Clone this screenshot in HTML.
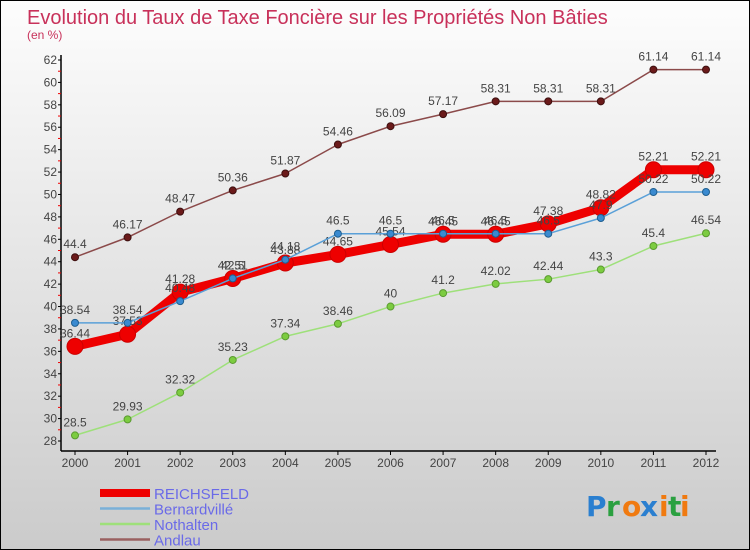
<!DOCTYPE html>
<html><head><meta charset="utf-8"><style>
body{margin:0;}
#wrap{width:750px;height:550px;position:relative;overflow:hidden;font-family:"Liberation Sans",sans-serif;}
svg{display:block}
</style></head><body>
<div id="wrap">
<svg id="chart" width="750" height="550" xmlns="http://www.w3.org/2000/svg">
<defs>
<linearGradient id="bg" x1="0" y1="0" x2="0" y2="1"><stop offset="0" stop-color="#fdfdfd"/><stop offset="1" stop-color="#cbcbcb"/></linearGradient>
</defs>
<rect x="0.5" y="0.5" width="749" height="549" fill="url(#bg)" stroke="#000"/>
<text x="27" y="24" font-size="20" fill="#c8315a">Evolution du Taux de Taxe Foncière sur les Propriétés Non Bâties</text>
<text x="27" y="39" font-size="12" fill="#c8315a">(en %)</text>
<g id="axes"></g>
<g id="series"></g>
<g id="legend"></g>
<g font-size="28" font-family="'DejaVu Sans',sans-serif" font-weight="bold">
<text x="586" y="516" fill="#2a7fd0">P</text><text x="606" y="516" fill="#2aa040">r</text><text x="622" y="516" fill="#f07a10">o</text><text x="640" y="516" fill="#2a7fd0">x</text><text x="659" y="516" fill="#f07a10">i</text><text x="668" y="516" fill="#2aa040">t</text><text x="680" y="516" fill="#f07a10">i</text>
</g>
</svg>
</div>
<script>
const years = [2000,2001,2002,2003,2004,2005,2006,2007,2008,2009,2010,2011,2012];
const reichsfeld = [36.44,37.53,41.28,42.5,43.88,44.65,45.54,46.45,46.45,47.38,48.82,52.21,52.21];
const bernardville = [38.54,38.54,40.48,42.51,44.18,46.5,46.5,46.5,46.5,46.5,47.9,50.22,50.22];
const nothalten = [28.5,29.93,32.32,35.23,37.34,38.46,40,41.2,42.02,42.44,43.3,45.4,46.54];
const andlau = [44.4,46.17,48.47,50.36,51.87,54.46,56.09,57.17,58.31,58.31,58.31,61.14,61.14];
const yTicks = [28,30,32,34,36,38,40,42,44,46,48,50,52,54,56,58,60,62];
const seriesNames = ["REICHSFELD","Bernardvillé","Nothalten","Andlau"];

const NS="http://www.w3.org/2000/svg";
const yMin=28,yMax=62,yTop=60,yBot=441;
const x0=75,x1=706,axisX=61,axisY=451;
function sx(i){return x0+(x1-x0)*i/(years.length-1);}
function sy(v){return yBot-(v-yMin)*(yBot-yTop)/(yMax-yMin);}
function mk(tag,attrs,parent){const e=document.createElementNS(NS,tag);for(const k in attrs)e.setAttribute(k,attrs[k]);parent.appendChild(e);return e;}

const axes=document.getElementById('axes');
const ya=mk('line',{x1:axisX,y1:yTop-5,x2:axisX,y2:axisY,stroke:'#000','stroke-width':1.5},axes);


const xa=mk('line',{x1:axisX,y1:axisY,x2:x1+10,y2:axisY,stroke:'#000','stroke-width':1.5},axes);


yTicks.forEach(v=>{
  const y=sy(v);
  mk('line',{x1:axisX-3,y1:y,x2:axisX,y2:y,stroke:'#000'},axes);
  if(v<yMax){mk('line',{x1:axisX-3,y1:sy(v+1),x2:axisX,y2:sy(v+1),stroke:'#e00'},axes);}
  const t=mk('text',{x:axisX-4,y:y+4,'text-anchor':'end','font-size':12,fill:'#444'},axes);
  t.textContent=v;
  
  
});
years.forEach((yr,i)=>{
  const x=sx(i);
  mk('line',{x1:x,y1:axisY,x2:x,y2:axisY+4,stroke:'#000'},axes);
  const t=mk('text',{x:x,y:axisY+16,'text-anchor':'middle','font-size':12,fill:'#444'},axes);
  t.textContent=yr;
  
  
});

const sg=document.getElementById('series');
function drawSeries(vals,color,w,r,name,dotStroke,dotFill){
  const g=mk('g',{},sg);
  
  
  const pts=vals.map((v,i)=>sx(i)+','+sy(v)).join(' ');
  const pl=mk('polyline',{points:pts,fill:'none',stroke:color,'stroke-width':w,'stroke-linejoin':'round'},g);
  
  
  vals.forEach((v,i)=>{
    const c=mk('circle',{cx:sx(i),cy:sy(v),r:r,fill:dotFill,stroke:dotStroke,'stroke-width':1},g);
    
    
    const t=mk('text',{x:sx(i),y:sy(v)-9,'text-anchor':'middle','font-size':12,fill:'#444'},g);
    t.textContent=v;
    
    
  });
}
drawSeries(andlau,'#8b4a4a',1.5,3.5,'andlau','#3d0f0f','#6b1a1a');
drawSeries(nothalten,'#9ee07a',1.5,3.5,'nothalten','#5a9a30','#7ccc40');
drawSeries(reichsfeld,'#ee0000',9,8,'reichsfeld','#cc0000','#ee0000');
drawSeries(bernardville,'#5aa0d8',1.5,3.5,'bernardville','#1f5f90','#3a8ad0');

const lg=document.getElementById('legend');
const lcols=['#ee0000','#7ab0d8','#9ee07a','#9a6060'];
const lw=[8,2.5,2.5,2.5];
seriesNames.forEach((n,i)=>{
  const y=493+i*15.5;
  const ln=mk('line',{x1:100,y1:y,x2:150,y2:y,stroke:lcols[i],'stroke-width':lw[i]},lg);
  
  
  const t=mk('text',{x:154,y:y+6,'font-size':15,fill:'#6a6ae8'},lg);
  t.textContent=n;
  
  
});
</script>
</body></html>
